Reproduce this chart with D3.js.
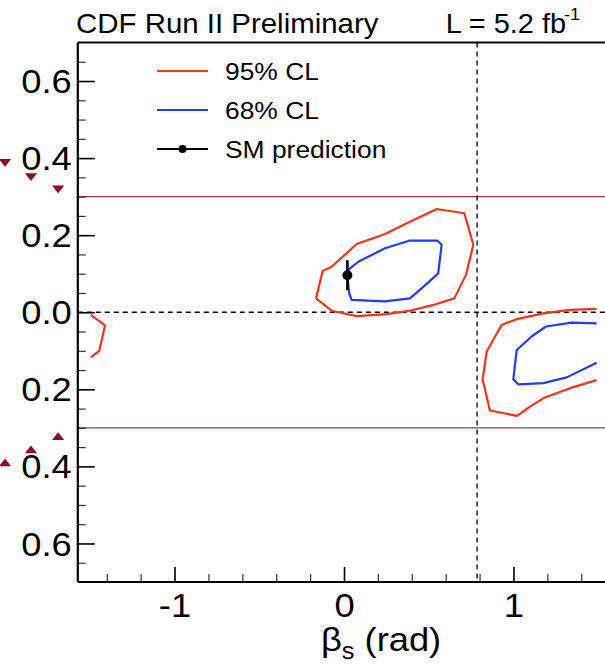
<!DOCTYPE html>
<html>
<head>
<meta charset="utf-8">
<script src="https://cdn.jsdelivr.net/npm/d3@7"></script>
<style>
  html, body { margin: 0; padding: 0; background: #fff; }
  svg { display: block; font-family: "Liberation Sans", Arial, Helvetica, sans-serif; }
</style>
</head>
<body>
<svg id="chart" width="605" height="668"></svg>
<script>
// Confidence-region contours in the (beta_s, Delta Gamma) plane: [beta_s (rad), DeltaGamma (ps^-1)]
const red95Main = [
  [-0.165, 0.036], [-0.126, 0.107], [-0.073, 0.118], [0.075, 0.177], [0.242, 0.203],
  [0.389, 0.235], [0.547, 0.268], [0.710, 0.257], [0.763, 0.175], [0.720, 0.097],
  [0.651, 0.036], [0.527, 0.019], [0.389, 0.004], [0.252, -0.005], [0.075, -0.010],
  [-0.073, 0.004], [-0.165, 0.036]
];
const blue68Main = [
  [0.025, 0.110], [0.084, 0.131], [0.242, 0.166], [0.389, 0.186], [0.550, 0.186],
  [0.576, 0.175], [0.556, 0.101], [0.468, 0.066], [0.389, 0.036], [0.242, 0.028],
  [0.045, 0.032], [0.031, 0.049], [0.019, 0.097], [0.025, 0.110]
];
const red95Right = [
  [1.491, 0.009], [1.333, 0.006], [1.176, -0.003], [1.019, -0.018], [0.930, -0.033],
  [0.842, -0.102], [0.818, -0.174], [0.861, -0.255], [1.022, -0.269], [1.097, -0.245],
  [1.186, -0.221], [1.333, -0.197], [1.491, -0.176]
];
const blue68Right = [
  [1.491, -0.029], [1.343, -0.027], [1.192, -0.037], [1.107, -0.063], [1.019, -0.098],
  [0.999, -0.174], [1.028, -0.187], [1.176, -0.184], [1.314, -0.169], [1.491, -0.131]
];
const red95Left = [
  [-1.494, -0.007], [-1.410, -0.034], [-1.444, -0.100], [-1.493, -0.117]
];

// Standard Model expectation: beta_s, DeltaGamma and its uncertainty
const smPoint = { beta: 0.02, dg: 0.096, err: 0.039 };

// Reference levels
const hLines = [0.3, -0.3];
const vDashed = [Math.PI / 4];
const hDashed = [0];

// Off-frame markers (pointing down / up)
const markersDown = [[-2.0, 0.391], [-1.847, 0.354], [-1.687, 0.322]];
const markersUp = [[-1.687, -0.325], [-1.847, -0.359], [-2.0, -0.393]];

// Axis ticks
const xMajor = [-1, 0, 1];
const xMinor = d3.range(-14, 15, 2).map(d => d / 10).filter(d => !xMajor.includes(d));
const yMajor = [-0.6, -0.4, -0.2, 0, 0.2, 0.4, 0.6];
const yMinor = d3.range(-13, 14).map(d => d * 0.05).filter(d => !yMajor.some(m => Math.abs(m - d) < 1e-9));

const legendItems = [
  { label: "95% CL", color: "#ff3214", type: "line" },
  { label: "68% CL", color: "#1e3cff", type: "line" },
  { label: "SM prediction", color: "#000", type: "point" }
];

const RED = "#ff3214", BLUE = "#1e3cff";
const STRETCH = 1.07;

const svg = d3.select("#chart");
const x = d3.scaleLinear().domain([-Math.PI / 2, Math.PI / 2]).range([77.8, 610.2]);
const y = d3.scaleLinear().domain([-0.7, 0.7]).range([582, 42.5]);

// Horizontally widen a text element about its anchor x
function widen(sel, sx) {
  sel.each(function () {
    const t = d3.select(this);
    const x0 = +t.attr("x") || 0;
    t.attr("transform", `translate(${x0},0) scale(${sx},1) translate(${-x0},0)`);
  });
}

// Reference lines
svg.selectAll(".hline").data(hLines).join("line")
  .attr("x1", x.range()[0]).attr("x2", x.range()[1])
  .attr("y1", d => y(d)).attr("y2", d => y(d))
  .attr("stroke", "#a8323e").attr("stroke-width", 1.4);

svg.selectAll(".hdash").data(hDashed).join("line")
  .attr("x1", x.range()[0]).attr("x2", x.range()[1])
  .attr("y1", d => y(d)).attr("y2", d => y(d))
  .attr("stroke", "#000").attr("stroke-width", 1.3).attr("stroke-dasharray", "5,4");

svg.selectAll(".vdash").data(vDashed).join("line")
  .attr("x1", d => x(d)).attr("x2", d => x(d))
  .attr("y1", y(0.7)).attr("y2", y(-0.7))
  .attr("stroke", "#000").attr("stroke-width", 1.3).attr("stroke-dasharray", "5,4");

// Contours
const line = d3.line().x(d => x(d[0])).y(d => y(d[1]));
const contours = [
  { pts: red95Main, color: RED }, { pts: blue68Main, color: BLUE },
  { pts: red95Right, color: RED }, { pts: blue68Right, color: BLUE },
  { pts: red95Left, color: RED }
];
svg.selectAll(".contour").data(contours).join("path")
  .attr("d", d => line(d.pts))
  .attr("fill", "none").attr("stroke", d => d.color)
  .attr("stroke-width", 2.2).attr("stroke-linejoin", "round");

// SM prediction with error bar
svg.append("line")
  .attr("x1", x(smPoint.beta)).attr("x2", x(smPoint.beta))
  .attr("y1", y(smPoint.dg + smPoint.err)).attr("y2", y(smPoint.dg - smPoint.err))
  .attr("stroke", "#000").attr("stroke-width", 2.6);
svg.append("circle")
  .attr("cx", x(smPoint.beta)).attr("cy", y(smPoint.dg)).attr("r", 5).attr("fill", "#000");

// Off-frame markers
const tri = d3.symbol().type(d3.symbolTriangle).size(48);
svg.selectAll(".mdown").data(markersDown).join("path")
  .attr("d", tri)
  .attr("transform", d => `translate(${x(d[0])},${y(d[1])}) rotate(180) scale(1.15,0.85)`)
  .attr("fill", "#8c0a1c");
svg.selectAll(".mup").data(markersUp).join("path")
  .attr("d", tri)
  .attr("transform", d => `translate(${x(d[0])},${y(d[1])}) scale(1.15,0.85)`)
  .attr("fill", "#8c0a1c");

// Frame
svg.append("line").attr("x1", x.range()[0]).attr("x2", x.range()[1])
  .attr("y1", y(0.7)).attr("y2", y(0.7)).attr("stroke", "#000").attr("stroke-width", 2);

// X axis
const xAxisG = svg.append("g").attr("transform", `translate(0,${y(-0.7)})`);
xAxisG.append("g").call(d3.axisBottom(x).tickValues(xMinor).tickSize(-8).tickFormat(""))
  .call(g => g.select(".domain").remove())
  .call(g => g.selectAll("line").attr("stroke", "#333").attr("stroke-width", 1.2));
xAxisG.append("g").call(d3.axisBottom(x).tickValues(xMajor).tickSize(-15).tickPadding(11)
    .tickFormat(d => String(d)))
  .call(g => g.select(".domain").remove())
  .call(g => g.selectAll("line").attr("stroke", "#000").attr("stroke-width", 1.6))
  .call(g => g.selectAll("text").attr("font-size", 34).attr("fill", "#000")
    .attr("font-family", "Liberation Sans, Arial, sans-serif").call(widen, STRETCH));
xAxisG.append("line").attr("x1", x.range()[0]).attr("x2", x.range()[1])
  .attr("stroke", "#000").attr("stroke-width", 2.2);

// Y axis (labels shown as magnitudes)
const yAxisG = svg.append("g").attr("transform", `translate(${x(-Math.PI / 2)},0)`);
yAxisG.append("g").call(d3.axisLeft(y).tickValues(yMinor).tickSize(-8).tickFormat(""))
  .call(g => g.select(".domain").remove())
  .call(g => g.selectAll("line").attr("stroke", "#333").attr("stroke-width", 1.2));
yAxisG.append("g").call(d3.axisLeft(y).tickValues(yMajor).tickSize(-17).tickPadding(6)
    .tickFormat(d => Math.abs(d).toFixed(1)))
  .call(g => g.select(".domain").remove())
  .call(g => g.selectAll("line").attr("stroke", "#000").attr("stroke-width", 1.6))
  .call(g => g.selectAll("text").attr("font-size", 34).attr("fill", "#000").attr("dy", "0.34em")
    .attr("font-family", "Liberation Sans, Arial, sans-serif").call(widen, STRETCH));
yAxisG.append("line").attr("y1", y(0.7)).attr("y2", y(-0.7))
  .attr("stroke", "#000").attr("stroke-width", 2.2);

// Axis title
const xt = svg.append("text").attr("x", 321).attr("y", 651)
  .attr("font-size", 33).attr("fill", "#000");
xt.append("tspan").text("β");
xt.append("tspan").attr("font-size", 23).attr("dy", 8).text("s");
xt.append("tspan").attr("dy", -8).text(" (rad)");
widen(xt, 1.1);

// Header
const t1 = svg.append("text").attr("x", 76).attr("y", 33).attr("font-size", 27)
  .attr("fill", "#000").text("CDF Run II Preliminary");
widen(t1, 1.09);
const t2 = svg.append("text").attr("x", 566).attr("y", 33).attr("font-size", 27)
  .attr("text-anchor", "end").attr("fill", "#000").text("L = 5.2 fb");
widen(t2, STRETCH);
const t3 = svg.append("text").attr("x", 564).attr("y", 20).attr("font-size", 17)
  .attr("fill", "#000").text("-1");
widen(t3, STRETCH);

// Legend
const leg = svg.append("g");
const rowY = d3.scaleOrdinal().domain(legendItems.map(d => d.label)).range([71, 110, 149]);
const rows = leg.selectAll("g").data(legendItems).join("g")
  .attr("transform", d => `translate(0,${rowY(d.label)})`);
rows.append("line").attr("x1", 157).attr("x2", 208)
  .attr("stroke", d => d.color).attr("stroke-width", d => d.type === "point" ? 2 : 1.8);
rows.filter(d => d.type === "point").append("circle")
  .attr("cx", 182.5).attr("r", 4).attr("fill", "#000");
rows.append("text").attr("x", 225).attr("y", 0).attr("dy", "0.36em")
  .attr("font-size", 24).attr("fill", "#000").text(d => d.label)
  .call(widen, 1.1);
</script>
</body>
</html>
